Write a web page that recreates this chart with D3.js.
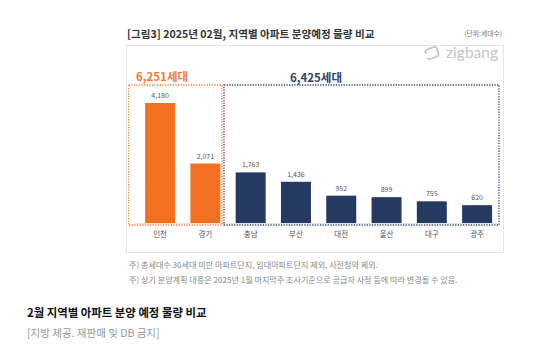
<!DOCTYPE html>
<html><head><meta charset="utf-8">
<script src="https://cdn.jsdelivr.net/npm/d3@7"></script>
<style>html,body{margin:0;padding:0;background:#fff;}svg{display:block;font-family:"Noto Sans CJK KR","Noto Sans",sans-serif;}</style>
</head><body><svg id="c" width="550" height="359"></svg>
<script>
const categories = ["인천","경기","충남","부산","대전","울산","대구","광주"];
const values = [4180,2071,1763,1436,952,899,755,620];
const groups = ["수도권","수도권","지방","지방","지방","지방","지방","지방"];
const groupTotals = {"수도권":"6,251세대","지방":"6,425세대"};
const titleText = "[그림3] 2025년 02월, 지역별 아파트 분양예정 물량 비교";
const unitText = "(단위:세대수)";
const notes = ["주) 총세대수 30세대 미만 아파트단지, 임대아파트단지 제외, 사전청약 제외.",
               "주) 상기 분양계획 내용은 2025년 1월  마지막주  조사기준으로 공급자 사정 등에 따라 변경될 수 있음."];
const caption = "2월 지역별 아파트 분양 예정 물량 비교";
const source = "[지방 제공. 재판매 및 DB 금지]";

const colors = {"수도권":"#f36f21","지방":"#243a60"};
const svg = d3.select("#c");

const x = d3.scaleBand().domain(categories).range([137.4, 499.8]).paddingInner(0.338).paddingOuter(0.17);
const y = d3.scaleLinear().domain([0, 4180]).range([223, 103]);

// frame
svg.append("rect").attr("x",126.5).attr("y",45.5).attr("width",377).attr("height",207)
  .attr("fill","none").attr("stroke","#e6e6e6").attr("stroke-width",1);

// title
svg.append("text").attr("x",127).attr("y",38).attr("font-size",10.6).attr("font-weight","bold")
  .attr("fill","#333").text(titleText);
svg.append("text").attr("x",502).attr("y",36).attr("text-anchor","end").attr("font-size",6.8)
  .attr("fill","#777").text(unitText);

// zigbang logo
const lg = svg.append("g").attr("transform","translate(432,53) rotate(-20)");
lg.append("rect").attr("x",-6).attr("y",-5).attr("width",12).attr("height",10).attr("rx",2.5)
  .attr("fill","none").attr("stroke","#c4c4c4").attr("stroke-width",1.6).attr("stroke-dasharray","30,4");
svg.append("text").attr("x",498).attr("y",57.5).attr("text-anchor","end").attr("font-size",15.5)
  .attr("font-family","Lato, 'Open Sans', sans-serif").attr("fill","#c4c4c4").text("zigbang");

// baseline
svg.append("line").attr("x1",135).attr("x2",497).attr("y1",y(0)+0.5).attr("y2",y(0)+0.5).attr("stroke","#e3e3e3");

// group boxes
const grpNames = ["수도권","지방"];
const boxes = {"수도권":[128.5,222],"지방":[224,499]};
grpNames.forEach(g => {
  const b = boxes[g];
  svg.append("rect").attr("x",b[0]).attr("y",85).attr("width",b[1]-b[0]).attr("height",140)
    .attr("fill","none").attr("stroke",colors[g]).attr("stroke-width",1.3).attr("stroke-dasharray","1.3,1.3")
    .attr("opacity",g==="수도권"?0.85:0.9);
});
svg.append("text").attr("x",136).attr("y",81).attr("font-size",11.5).attr("font-weight","bold")
  .attr("fill","#f07a35").text(groupTotals["수도권"]);
svg.append("text").attr("x",316).attr("y",82).attr("text-anchor","middle").attr("font-size",11.5).attr("font-weight","bold")
  .attr("fill","#2e4266").text(groupTotals["지방"]);

// bars
const data = categories.map((c,i)=>({c, v:values[i], g:groups[i]}));
svg.selectAll("rect.bar").data(data).enter().append("rect").attr("class","bar")
  .attr("x",d=>x(d.c)).attr("width",x.bandwidth()).attr("y",d=>y(d.v)).attr("height",d=>y(0)-y(d.v))
  .attr("fill",d=>colors[d.g]);
svg.selectAll("text.val").data(data).enter().append("text").attr("class","val")
  .attr("x",d=>x(d.c)+x.bandwidth()/2).attr("y",d=>y(d.v)-5).attr("text-anchor","middle")
  .attr("font-size",7).attr("fill","#555").text(d=>d3.format(",")(d.v));

// x axis labels
const xa = svg.append("g").attr("transform",`translate(0,${y(0)})`).call(d3.axisBottom(x).tickSize(0).tickPadding(9));
xa.select(".domain").remove();
xa.selectAll("text").attr("font-size",7.5).attr("fill","#555").attr("font-family","'Noto Sans CJK KR',sans-serif");

// notes
notes.forEach((n,i)=>{
  svg.append("text").attr("x",129).attr("y",268+i*15).attr("font-size",8.1).attr("fill","#888").text(n);
});

// caption
svg.append("text").attr("x",27).attr("y",317).attr("font-size",11.4).attr("font-weight","bold").attr("fill","#111").text(caption);
svg.append("text").attr("x",27).attr("y",337).attr("font-size",10.5).attr("fill","#999").text(source);
</script></body></html>
